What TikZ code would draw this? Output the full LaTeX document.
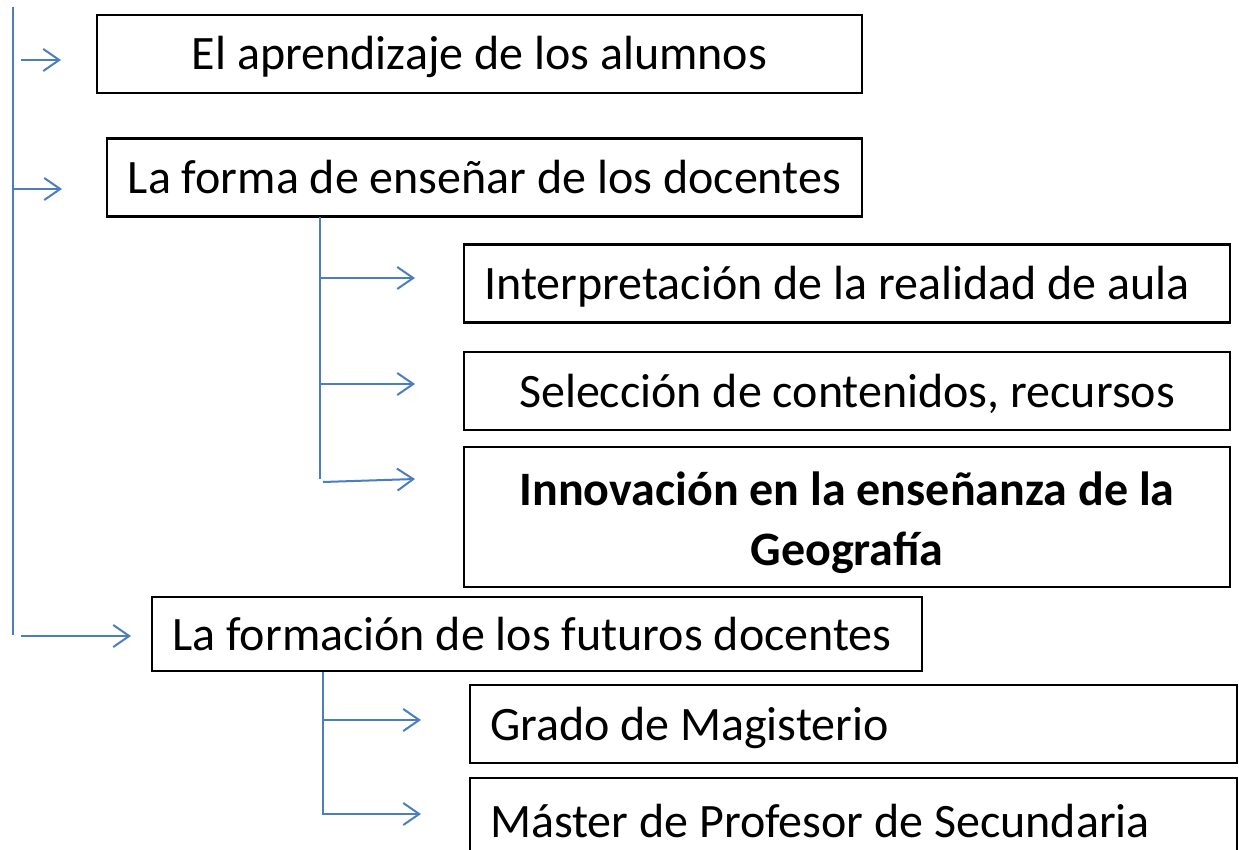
\documentclass[tikz,border=0pt]{standalone}
\usepackage{fontspec}
\setmainfont{Carlito}
\usetikzlibrary{arrows.meta}
\definecolor{lineblue}{HTML}{4A7EBF}
\tikzset{
  box/.style={draw=black, line width=2.2pt, minimum height=#1, inner sep=0pt, font=\fontsize{48}{58}\selectfont, text height=42pt, text depth=10pt},
  box/.default=78pt,
  arr/.style={draw=lineblue, line width=2pt, -{Straight Barb[length=16pt, width=22pt, line width=2pt]}},
  spine/.style={draw=lineblue, line width=2pt}
}
\begin{document}
\begin{tikzpicture}[x=1pt, y=-1pt]
\useasboundingbox (0,0) rectangle (1239,850);
% boxes
\node[box, minimum width=765pt] (b1) at (479.5,54) {El aprendizaje de los alumnos};
\node[box, minimum width=755pt] (b2) at (484.5,177.5) {La forma de enseñar de los docentes};
\node[box, minimum width=766pt] (b3) at (847,283.5) {\hspace*{-20pt}Interpretación de la realidad de aula};
\node[box, minimum width=766pt] (b4) at (847,391) {Selección de contenidos, recursos};
\node[draw=black, line width=2.2pt, inner sep=0pt, minimum height=140pt, minimum width=766pt, align=center, font=\fontsize{48}{60}\selectfont\bfseries] (b5) at (847,517) {\rule{0pt}{46pt}Innovación en la enseñanza de la\\Geografía};
\node[box=74pt, minimum width=770pt] (b6) at (537,634) {\hspace*{-10pt}La formación de los futuros docentes};
\node[box, minimum width=767pt, text width=727pt, align=flush left] (b7) at (853.5,724) {Grado de Magisterio};
\node[box=86pt, minimum width=767pt, text width=727pt, align=flush left, anchor=north] (b8) at (853.5,777) {Máster de Profesor de Secundaria};
% spines
\coordinate (s0) at (13,7);
\coordinate (s1) at (13,635);
\draw[spine] (s0) -- (s1);
\coordinate (t0) at (320,217);
\coordinate (t1) at (320,479);
\draw[spine] (t0) -- (t1);
\coordinate (u0) at (323,672);
\coordinate (u1) at (323,815);
\draw[spine] (u0) -- (u1);
% arrows level 1
\coordinate (a1s) at (21,60); \coordinate (a1e) at (61,60);
\draw[arr] (a1s) -- (a1e);
\coordinate (a2s) at (13,189); \coordinate (a2e) at (62,189);
\draw[arr] (a2s) -- (a2e);
\coordinate (a3s) at (21,636); \coordinate (a3e) at (131,636);
\draw[arr] (a3s) -- (a3e);
% arrows level 2
\coordinate (c1e) at (415,278);
\draw[arr] (t0 |- c1e) -- (c1e);
\coordinate (c2e) at (415,384);
\draw[arr] (t0 |- c2e) -- (c2e);
\coordinate (c3s) at (323,482); \coordinate (c3e) at (415,479);
\draw[arr] (c3s) -- (c3e);
% arrows level 3
\coordinate (d1e) at (421,720);
\draw[arr] (u0 |- d1e) -- (d1e);
\coordinate (d2e) at (421,814);
\draw[arr] (u0 |- d2e) -- (d2e);
\end{tikzpicture}
\end{document}
